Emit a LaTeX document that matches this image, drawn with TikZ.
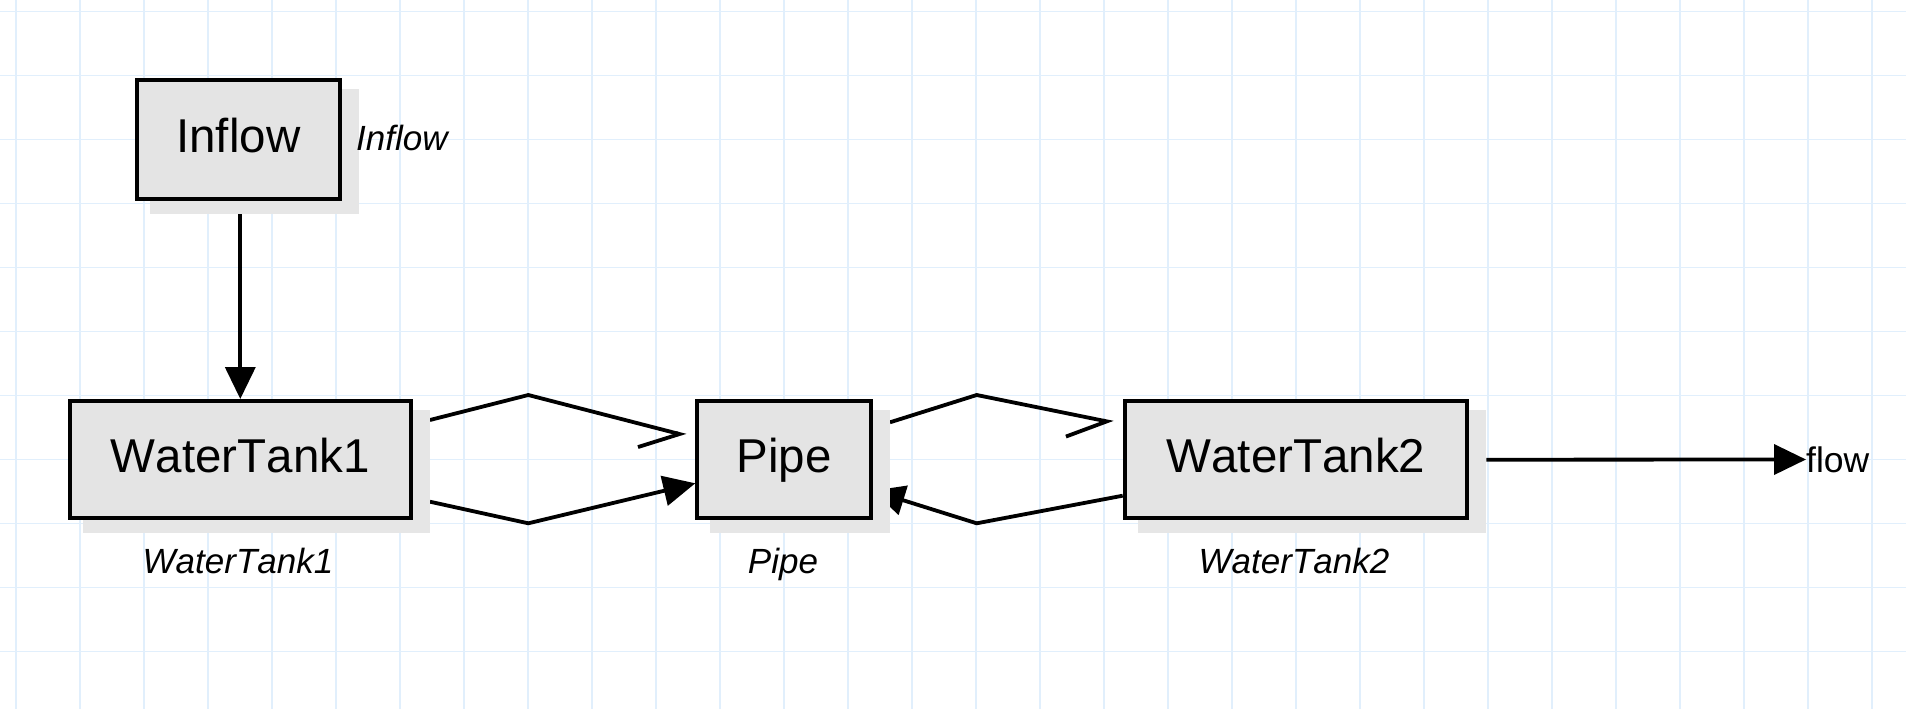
\documentclass[tikz,border=0pt]{standalone}
\usepackage{fontspec}
\setmainfont{Liberation Sans}[Kerning=Off]
\usetikzlibrary{arrows.meta,calc}
\definecolor{gridc}{RGB}{225,239,252}
\definecolor{boxfill}{RGB}{228,228,228}
\definecolor{shadowc}{RGB}{230,230,230}
\pgfdeclarelayer{gridlayer}
\pgfdeclarelayer{connlayer}
\pgfdeclarelayer{shadelayer}
\pgfsetlayers{gridlayer,connlayer,shadelayer,main}
\begin{document}
\begin{tikzpicture}[x=1pt,y=-1pt,
  block/.style={draw=black, line width=4pt, fill=boxfill, inner sep=0pt,
    font=\fontsize{47.5}{56}\selectfont, text height=35pt, text depth=9.5pt},
  lbl/.style={inner sep=0pt, font=\fontsize{35}{42}\selectfont\itshape},
  conn/.style={line width=3.8pt, line join=miter},
  filledtip/.style={-{Triangle[length=32pt,width=30pt]}},
  barbtip/.style={-{Straight Barb[harpoon,swap,length=37pt,width=46pt]}},
]
\useasboundingbox (0,0) rectangle (1906,709);
\begin{pgfonlayer}{gridlayer}
  \fill[white] (0,0) rectangle (1906,709);
  \foreach \i in {0,...,29} \draw[gridc, line width=1.2pt] ({16+64*\i},0) -- ({16+64*\i},709);
  \foreach \j in {0,...,10} \draw[gridc, line width=1.2pt] (0,{11.5+64*\j}) -- (1906,{11.5+64*\j});
\end{pgfonlayer}

% boxes
\node[block, minimum width=202.7pt, minimum height=118.7pt] (inflow) at (238.3,139.7) {Inflow};
\node[block, minimum width=341.3pt, minimum height=117pt] (wt1) at (240.3,459.5) {WaterTank1};
\node[block, minimum width=173.4pt, minimum height=116.7pt] (pipe) at (784,459.7) {Pipe};
\node[block, minimum width=342.6pt, minimum height=116.7pt] (wt2) at (1296,459.7) {WaterTank2};

% labels
\node[lbl, anchor=base west] (inflowlbl) at (356,150) {Inflow};
\node[lbl, anchor=base] (wt1lbl) at (238,573.3) {WaterTank1};
\node[lbl, anchor=base] (pipelbl) at (783,573.3) {Pipe};
\node[lbl, anchor=base] (wt2lbl) at (1294,573.3) {WaterTank2};
\node[inner sep=0pt, anchor=west, font=\fontsize{35.5}{42}\selectfont] (flow) at (1806,459.5) {flow};

% shadows
\begin{pgfonlayer}{shadelayer}
  \foreach \n in {inflow,wt1,pipe,wt2}
    \fill[shadowc] ([xshift=15pt,yshift=-11pt]\n.north west) rectangle ([xshift=17pt,yshift=-12.7pt]\n.south east);
\end{pgfonlayer}

% connectors
\begin{pgfonlayer}{connlayer}
  \draw[conn, filledtip] ($(inflow.south -| wt1.north)+(0,12)$) -- (wt1.north);
  \draw[conn, barbtip] ([xshift=17pt,yshift=39.5pt]wt1.east) -- (528.3,395) -- ([xshift=-9.3pt,yshift=24pt]pipe.west);
  \draw[conn, filledtip] ([xshift=17pt,yshift=-42.2pt]wt1.east) -- (528.3,523.3) -- ([yshift=-23.6pt]pipe.west);
  \draw[conn, barbtip] ([xshift=17.3pt,yshift=37.4pt]pipe.east) -- (976.7,395) -- ([xshift=-9.4pt,yshift=37pt]wt2.west);
  \draw[conn, filledtip] ([yshift=-36pt]wt2.west) -- (976.7,523.3) -- ([yshift=-31pt]pipe.east);
  \draw[conn, filledtip] ([xshift=17pt]wt2.east) -- (flow.west);
\end{pgfonlayer}
\end{tikzpicture}
\end{document}
